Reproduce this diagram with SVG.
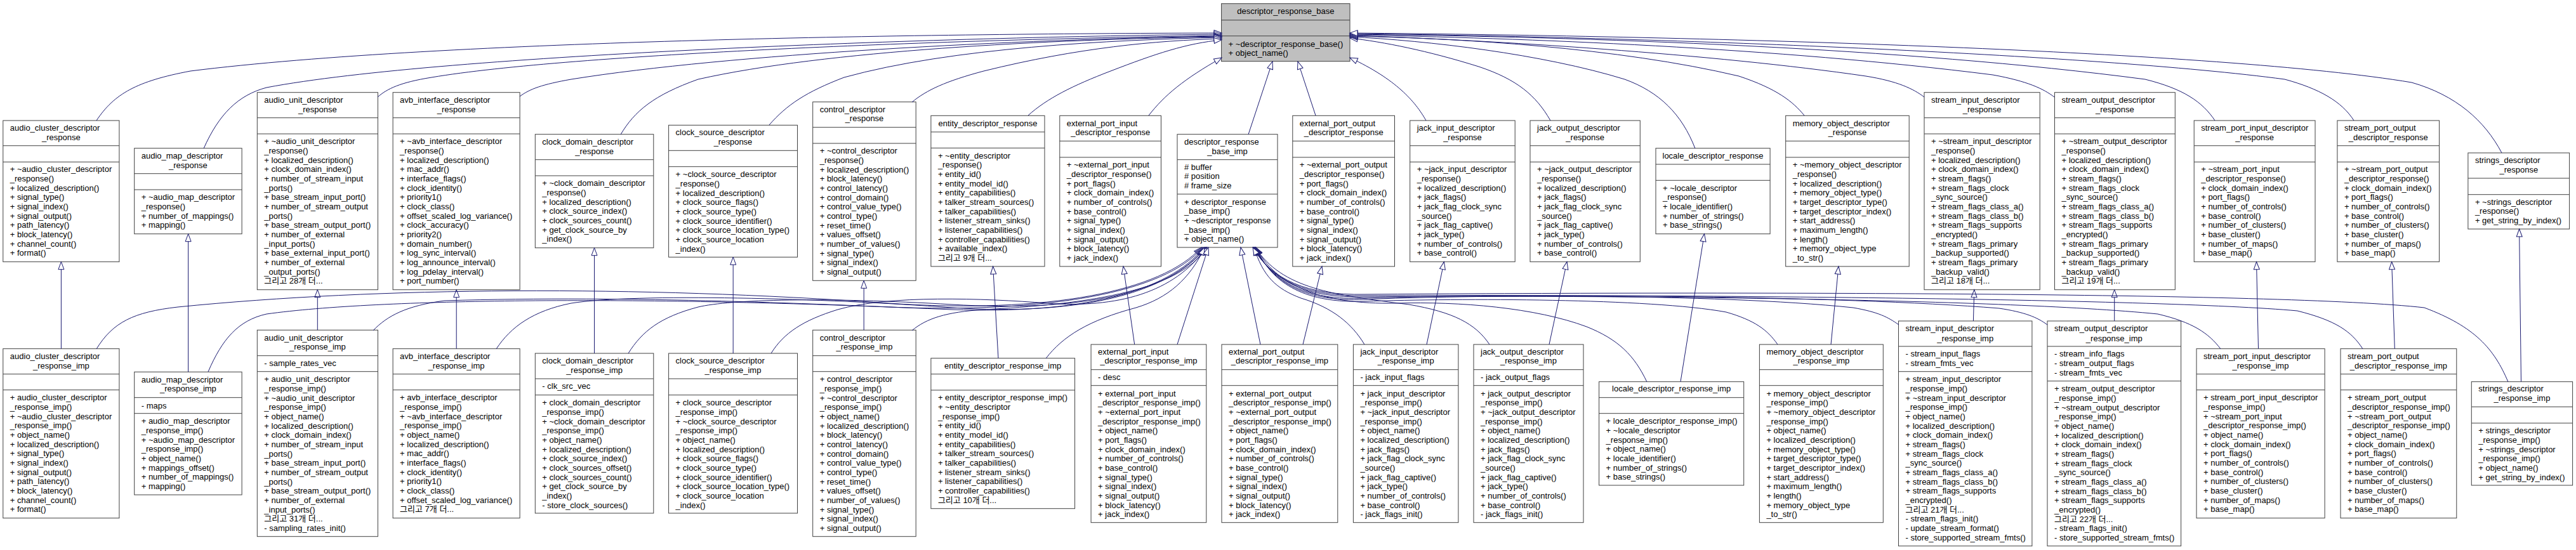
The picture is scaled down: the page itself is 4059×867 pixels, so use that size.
<svg xmlns="http://www.w3.org/2000/svg" width="4059" height="867" viewBox="0 0 4059 867">
<defs>
<marker id="tri" markerUnits="userSpaceOnUse" markerWidth="15" markerHeight="12" viewBox="0 0 15 12" refX="13" refY="5.5" orient="auto"><path d="M1,1 L13,5.5 L1,10 Z" fill="#fff" stroke="#191970" stroke-width="1"/></marker>
</defs>
<style>
.n rect{fill:#fff;stroke:#404040;stroke-width:1}
.n line{stroke:#404040;stroke-width:1}
#n_base rect{fill:#bfbfbf}
text{font-family:"Liberation Sans","Noto Sans CJK KR",sans-serif;font-size:13px;fill:#000}
.c{text-anchor:middle}
#edges path{fill:none;stroke:#191970;stroke-width:1;marker-end:url(#tri)}
</style>
<rect width="4059" height="867" fill="#fff"/>

<g id="n_base" class="n"><rect x="1924.6" y="5.7" width="202.4" height="91"/><line x1="1924.6" y1="31.7" x2="2127" y2="31.7"/><line x1="1924.6" y1="56.7" x2="2127" y2="56.7"/><text class="c" x="2025.8" y="21.8">descriptor_response_base</text><text x="1935.6" y="73.5"><tspan x="1935.6">+ ~descriptor_response_base()</tspan><tspan x="1935.6" dy="14.67">+ object_name()</tspan></text></g>

<g id="n_audio_cluster" class="n"><rect x="4.8" y="190" width="183.1" height="222.7"/><line x1="4.8" y1="229.7" x2="187.9" y2="229.7"/><line x1="4.8" y1="255.3" x2="187.9" y2="255.3"/><text x="15.8" y="206.2">audio_cluster_descriptor</text><text class="c" x="96.4" y="221.2">_response</text><text x="15.8" y="271.2"><tspan x="15.8">+ ~audio_cluster_descriptor</tspan><tspan x="15.8" dy="14.67">_response()</tspan><tspan x="15.8" dy="14.67">+ localized_description()</tspan><tspan x="15.8" dy="14.67">+ signal_type()</tspan><tspan x="15.8" dy="14.67">+ signal_index()</tspan><tspan x="15.8" dy="14.67">+ signal_output()</tspan><tspan x="15.8" dy="14.67">+ path_latency()</tspan><tspan x="15.8" dy="14.67">+ block_latency()</tspan><tspan x="15.8" dy="14.67">+ channel_count()</tspan><tspan x="15.8" dy="14.67">+ format()</tspan></text></g>

<g id="n_audio_map" class="n"><rect x="211.7" y="233.7" width="169.4" height="135"/><line x1="211.7" y1="273.7" x2="381.1" y2="273.7"/><line x1="211.7" y1="299" x2="381.1" y2="299"/><text x="222.7" y="250.2">audio_map_descriptor</text><text class="c" x="296.4" y="265.2">_response</text><text x="222.7" y="315.2"><tspan x="222.7">+ ~audio_map_descriptor</tspan><tspan x="222.7" dy="14.67">_response()</tspan><tspan x="222.7" dy="14.67">+ number_of_mappings()</tspan><tspan x="222.7" dy="14.67">+ mapping()</tspan></text></g>

<g id="n_audio_unit" class="n"><rect x="405.3" y="145.7" width="190.1" height="311"/><line x1="405.3" y1="185.7" x2="595.4" y2="185.7"/><line x1="405.3" y1="211" x2="595.4" y2="211"/><text x="416.3" y="162.2">audio_unit_descriptor</text><text class="c" x="500.4" y="177.2">_response</text><text x="416.3" y="227.2"><tspan x="416.3">+ ~audio_unit_descriptor</tspan><tspan x="416.3" dy="14.67">_response()</tspan><tspan x="416.3" dy="14.67">+ localized_description()</tspan><tspan x="416.3" dy="14.67">+ clock_domain_index()</tspan><tspan x="416.3" dy="14.67">+ number_of_stream_input</tspan><tspan x="416.3" dy="14.67">_ports()</tspan><tspan x="416.3" dy="14.67">+ base_stream_input_port()</tspan><tspan x="416.3" dy="14.67">+ number_of_stream_output</tspan><tspan x="416.3" dy="14.67">_ports()</tspan><tspan x="416.3" dy="14.67">+ base_stream_output_port()</tspan><tspan x="416.3" dy="14.67">+ number_of_external</tspan><tspan x="416.3" dy="14.67">_input_ports()</tspan><tspan x="416.3" dy="14.67">+ base_external_input_port()</tspan><tspan x="416.3" dy="14.67">+ number_of_external</tspan><tspan x="416.3" dy="14.67">_output_ports()</tspan><tspan x="416.3" dy="14.67">그리고 28개 더...</tspan></text></g>

<g id="n_avb_interface" class="n"><rect x="619.1" y="145.7" width="200" height="311"/><line x1="619.1" y1="185.7" x2="819.1" y2="185.7"/><line x1="619.1" y1="211" x2="819.1" y2="211"/><text x="630.1" y="162.2">avb_interface_descriptor</text><text class="c" x="719.1" y="177.2">_response</text><text x="630.1" y="227.2"><tspan x="630.1">+ ~avb_interface_descriptor</tspan><tspan x="630.1" dy="14.67">_response()</tspan><tspan x="630.1" dy="14.67">+ localized_description()</tspan><tspan x="630.1" dy="14.67">+ mac_addr()</tspan><tspan x="630.1" dy="14.67">+ interface_flags()</tspan><tspan x="630.1" dy="14.67">+ clock_identity()</tspan><tspan x="630.1" dy="14.67">+ priority1()</tspan><tspan x="630.1" dy="14.67">+ clock_class()</tspan><tspan x="630.1" dy="14.67">+ offset_scaled_log_variance()</tspan><tspan x="630.1" dy="14.67">+ clock_accuracy()</tspan><tspan x="630.1" dy="14.67">+ priority2()</tspan><tspan x="630.1" dy="14.67">+ domain_number()</tspan><tspan x="630.1" dy="14.67">+ log_sync_interval()</tspan><tspan x="630.1" dy="14.67">+ log_announce_interval()</tspan><tspan x="630.1" dy="14.67">+ log_pdelay_interval()</tspan><tspan x="630.1" dy="14.67">+ port_number()</tspan></text></g>

<g id="n_clock_domain" class="n"><rect x="843.3" y="211.7" width="186.5" height="179"/><line x1="843.3" y1="251.7" x2="1029.8" y2="251.7"/><line x1="843.3" y1="277" x2="1029.8" y2="277"/><text x="854.3" y="227.8">clock_domain_descriptor</text><text class="c" x="936.6" y="243.2">_response</text><text x="854.3" y="293.2"><tspan x="854.3">+ ~clock_domain_descriptor</tspan><tspan x="854.3" dy="14.67">_response()</tspan><tspan x="854.3" dy="14.67">+ localized_description()</tspan><tspan x="854.3" dy="14.67">+ clock_source_index()</tspan><tspan x="854.3" dy="14.67">+ clock_sources_count()</tspan><tspan x="854.3" dy="14.67">+ get_clock_source_by</tspan><tspan x="854.3" dy="14.67">_index()</tspan></text></g>

<g id="n_clock_source" class="n"><rect x="1053.6" y="197.3" width="202.9" height="208"/><line x1="1053.6" y1="237.3" x2="1256.5" y2="237.3"/><line x1="1053.6" y1="262.7" x2="1256.5" y2="262.7"/><text x="1064.6" y="213.2">clock_source_descriptor</text><text class="c" x="1155" y="227.8">_response</text><text x="1064.6" y="279.2"><tspan x="1064.6">+ ~clock_source_descriptor</tspan><tspan x="1064.6" dy="14.67">_response()</tspan><tspan x="1064.6" dy="14.67">+ localized_description()</tspan><tspan x="1064.6" dy="14.67">+ clock_source_flags()</tspan><tspan x="1064.6" dy="14.67">+ clock_source_type()</tspan><tspan x="1064.6" dy="14.67">+ clock_source_identifier()</tspan><tspan x="1064.6" dy="14.67">+ clock_source_location_type()</tspan><tspan x="1064.6" dy="14.67">+ clock_source_location</tspan><tspan x="1064.6" dy="14.67">_index()</tspan></text></g>

<g id="n_control" class="n"><rect x="1280.7" y="160.7" width="162.5" height="281.6"/><line x1="1280.7" y1="200.7" x2="1443.2" y2="200.7"/><line x1="1280.7" y1="226" x2="1443.2" y2="226"/><text x="1291.7" y="177.2">control_descriptor</text><text class="c" x="1362" y="191.2">_response</text><text x="1291.7" y="242.2"><tspan x="1291.7">+ ~control_descriptor</tspan><tspan x="1291.7" dy="14.67">_response()</tspan><tspan x="1291.7" dy="14.67">+ localized_description()</tspan><tspan x="1291.7" dy="14.67">+ block_latency()</tspan><tspan x="1291.7" dy="14.67">+ control_latency()</tspan><tspan x="1291.7" dy="14.67">+ control_domain()</tspan><tspan x="1291.7" dy="14.67">+ control_value_type()</tspan><tspan x="1291.7" dy="14.67">+ control_type()</tspan><tspan x="1291.7" dy="14.67">+ reset_time()</tspan><tspan x="1291.7" dy="14.67">+ values_offset()</tspan><tspan x="1291.7" dy="14.67">+ number_of_values()</tspan><tspan x="1291.7" dy="14.67">+ signal_type()</tspan><tspan x="1291.7" dy="14.67">+ signal_index()</tspan><tspan x="1291.7" dy="14.67">+ signal_output()</tspan></text></g>

<g id="n_entity" class="n"><rect x="1466.9" y="182.3" width="179.1" height="237.7"/><line x1="1466.9" y1="208" x2="1646" y2="208"/><line x1="1466.9" y1="233.3" x2="1646" y2="233.3"/><text class="c" x="1556.5" y="198.8">entity_descriptor_response</text><text x="1477.9" y="249.5"><tspan x="1477.9">+ ~entity_descriptor</tspan><tspan x="1477.9" dy="14.67">_response()</tspan><tspan x="1477.9" dy="14.67">+ entity_id()</tspan><tspan x="1477.9" dy="14.67">+ entity_model_id()</tspan><tspan x="1477.9" dy="14.67">+ entity_capabilities()</tspan><tspan x="1477.9" dy="14.67">+ talker_stream_sources()</tspan><tspan x="1477.9" dy="14.67">+ talker_capabilities()</tspan><tspan x="1477.9" dy="14.67">+ listener_stream_sinks()</tspan><tspan x="1477.9" dy="14.67">+ listener_capabilities()</tspan><tspan x="1477.9" dy="14.67">+ controller_capabilities()</tspan><tspan x="1477.9" dy="14.67">+ available_index()</tspan><tspan x="1477.9" dy="14.67">그리고 9개 더...</tspan></text></g>

<g id="n_ext_port_input" class="n"><rect x="1669.8" y="182.3" width="159.7" height="237.7"/><line x1="1669.8" y1="222.3" x2="1829.5" y2="222.3"/><line x1="1669.8" y1="248" x2="1829.5" y2="248"/><text x="1680.8" y="198.8">external_port_input</text><text class="c" x="1749.7" y="213.2">_descriptor_response</text><text x="1680.8" y="264.2"><tspan x="1680.8">+ ~external_port_input</tspan><tspan x="1680.8" dy="14.67">_descriptor_response()</tspan><tspan x="1680.8" dy="14.67">+ port_flags()</tspan><tspan x="1680.8" dy="14.67">+ clock_domain_index()</tspan><tspan x="1680.8" dy="14.67">+ number_of_controls()</tspan><tspan x="1680.8" dy="14.67">+ base_control()</tspan><tspan x="1680.8" dy="14.67">+ signal_type()</tspan><tspan x="1680.8" dy="14.67">+ signal_index()</tspan><tspan x="1680.8" dy="14.67">+ signal_output()</tspan><tspan x="1680.8" dy="14.67">+ block_latency()</tspan><tspan x="1680.8" dy="14.67">+ jack_index()</tspan></text></g>

<g id="n_base_imp" class="n"><rect x="1855" y="211.7" width="158" height="178.3"/><line x1="1855" y1="251.7" x2="2013" y2="251.7"/><line x1="1855" y1="306" x2="2013" y2="306"/><text x="1866" y="227.8">descriptor_response</text><text class="c" x="1934" y="243.2">_base_imp</text><text x="1866" y="267.8"><tspan x="1866"># buffer</tspan><tspan x="1866" dy="14.67"># position</tspan><tspan x="1866" dy="14.67"># frame_size</tspan></text><text x="1866" y="322.8"><tspan x="1866">+ descriptor_response</tspan><tspan x="1866" dy="14.67">_base_imp()</tspan><tspan x="1866" dy="14.67">+ ~descriptor_response</tspan><tspan x="1866" dy="14.67">_base_imp()</tspan><tspan x="1866" dy="14.67">+ object_name()</tspan></text></g>

<g id="n_ext_port_output" class="n"><rect x="2036.8" y="182.3" width="160.7" height="237.7"/><line x1="2036.8" y1="222.3" x2="2197.5" y2="222.3"/><line x1="2036.8" y1="248" x2="2197.5" y2="248"/><text x="2047.8" y="198.8">external_port_output</text><text class="c" x="2117.2" y="213.2">_descriptor_response</text><text x="2047.8" y="264.2"><tspan x="2047.8">+ ~external_port_output</tspan><tspan x="2047.8" dy="14.67">_descriptor_response()</tspan><tspan x="2047.8" dy="14.67">+ port_flags()</tspan><tspan x="2047.8" dy="14.67">+ clock_domain_index()</tspan><tspan x="2047.8" dy="14.67">+ number_of_controls()</tspan><tspan x="2047.8" dy="14.67">+ base_control()</tspan><tspan x="2047.8" dy="14.67">+ signal_type()</tspan><tspan x="2047.8" dy="14.67">+ signal_index()</tspan><tspan x="2047.8" dy="14.67">+ signal_output()</tspan><tspan x="2047.8" dy="14.67">+ block_latency()</tspan><tspan x="2047.8" dy="14.67">+ jack_index()</tspan></text></g>

<g id="n_jack_input" class="n"><rect x="2221.7" y="190" width="165.5" height="222.7"/><line x1="2221.7" y1="229.7" x2="2387.2" y2="229.7"/><line x1="2221.7" y1="255.3" x2="2387.2" y2="255.3"/><text x="2232.7" y="206.2">jack_input_descriptor</text><text class="c" x="2304.5" y="221.2">_response</text><text x="2232.7" y="271.2"><tspan x="2232.7">+ ~jack_input_descriptor</tspan><tspan x="2232.7" dy="14.67">_response()</tspan><tspan x="2232.7" dy="14.67">+ localized_description()</tspan><tspan x="2232.7" dy="14.67">+ jack_flags()</tspan><tspan x="2232.7" dy="14.67">+ jack_flag_clock_sync</tspan><tspan x="2232.7" dy="14.67">_source()</tspan><tspan x="2232.7" dy="14.67">+ jack_flag_captive()</tspan><tspan x="2232.7" dy="14.67">+ jack_type()</tspan><tspan x="2232.7" dy="14.67">+ number_of_controls()</tspan><tspan x="2232.7" dy="14.67">+ base_control()</tspan></text></g>

<g id="n_jack_output" class="n"><rect x="2411" y="190" width="173.3" height="222.7"/><line x1="2411" y1="229.7" x2="2584.3" y2="229.7"/><line x1="2411" y1="255.3" x2="2584.3" y2="255.3"/><text x="2422" y="206.2">jack_output_descriptor</text><text class="c" x="2497.7" y="221.2">_response</text><text x="2422" y="271.2"><tspan x="2422">+ ~jack_output_descriptor</tspan><tspan x="2422" dy="14.67">_response()</tspan><tspan x="2422" dy="14.67">+ localized_description()</tspan><tspan x="2422" dy="14.67">+ jack_flags()</tspan><tspan x="2422" dy="14.67">+ jack_flag_clock_sync</tspan><tspan x="2422" dy="14.67">_source()</tspan><tspan x="2422" dy="14.67">+ jack_flag_captive()</tspan><tspan x="2422" dy="14.67">+ jack_type()</tspan><tspan x="2422" dy="14.67">+ number_of_controls()</tspan><tspan x="2422" dy="14.67">+ base_control()</tspan></text></g>

<g id="n_locale" class="n"><rect x="2609" y="233.7" width="180.1" height="135"/><line x1="2609" y1="259" x2="2789.1" y2="259"/><line x1="2609" y1="284.3" x2="2789.1" y2="284.3"/><text class="c" x="2699" y="250.2">locale_descriptor_response</text><text x="2620" y="300.8"><tspan x="2620">+ ~locale_descriptor</tspan><tspan x="2620" dy="14.67">_response()</tspan><tspan x="2620" dy="14.67">+ locale_identifier()</tspan><tspan x="2620" dy="14.67">+ number_of_strings()</tspan><tspan x="2620" dy="14.67">+ base_strings()</tspan></text></g>

<g id="n_memory_object" class="n"><rect x="2813.7" y="182.3" width="194.5" height="237.7"/><line x1="2813.7" y1="222.3" x2="3008.2" y2="222.3"/><line x1="2813.7" y1="248" x2="3008.2" y2="248"/><text x="2824.7" y="198.8">memory_object_descriptor</text><text class="c" x="2911" y="213.2">_response</text><text x="2824.7" y="264.2"><tspan x="2824.7">+ ~memory_object_descriptor</tspan><tspan x="2824.7" dy="14.67">_response()</tspan><tspan x="2824.7" dy="14.67">+ localized_description()</tspan><tspan x="2824.7" dy="14.67">+ memory_object_type()</tspan><tspan x="2824.7" dy="14.67">+ target_descriptor_type()</tspan><tspan x="2824.7" dy="14.67">+ target_descriptor_index()</tspan><tspan x="2824.7" dy="14.67">+ start_address()</tspan><tspan x="2824.7" dy="14.67">+ maximum_length()</tspan><tspan x="2824.7" dy="14.67">+ length()</tspan><tspan x="2824.7" dy="14.67">+ memory_object_type</tspan><tspan x="2824.7" dy="14.67">_to_str()</tspan></text></g>

<g id="n_stream_input" class="n"><rect x="3032" y="145.7" width="182.2" height="311"/><line x1="3032" y1="185.7" x2="3214.2" y2="185.7"/><line x1="3032" y1="211" x2="3214.2" y2="211"/><text x="3043" y="162.2">stream_input_descriptor</text><text class="c" x="3123.1" y="177.2">_response</text><text x="3043" y="227.2"><tspan x="3043">+ ~stream_input_descriptor</tspan><tspan x="3043" dy="14.67">_response()</tspan><tspan x="3043" dy="14.67">+ localized_description()</tspan><tspan x="3043" dy="14.67">+ clock_domain_index()</tspan><tspan x="3043" dy="14.67">+ stream_flags()</tspan><tspan x="3043" dy="14.67">+ stream_flags_clock</tspan><tspan x="3043" dy="14.67">_sync_source()</tspan><tspan x="3043" dy="14.67">+ stream_flags_class_a()</tspan><tspan x="3043" dy="14.67">+ stream_flags_class_b()</tspan><tspan x="3043" dy="14.67">+ stream_flags_supports</tspan><tspan x="3043" dy="14.67">_encrypted()</tspan><tspan x="3043" dy="14.67">+ stream_flags_primary</tspan><tspan x="3043" dy="14.67">_backup_supported()</tspan><tspan x="3043" dy="14.67">+ stream_flags_primary</tspan><tspan x="3043" dy="14.67">_backup_valid()</tspan><tspan x="3043" dy="14.67">그리고 18개 더...</tspan></text></g>

<g id="n_stream_output" class="n"><rect x="3237.5" y="145.7" width="189.8" height="311"/><line x1="3237.5" y1="185.7" x2="3427.3" y2="185.7"/><line x1="3237.5" y1="211" x2="3427.3" y2="211"/><text x="3248.5" y="162.2">stream_output_descriptor</text><text class="c" x="3332.4" y="177.2">_response</text><text x="3248.5" y="227.2"><tspan x="3248.5">+ ~stream_output_descriptor</tspan><tspan x="3248.5" dy="14.67">_response()</tspan><tspan x="3248.5" dy="14.67">+ localized_description()</tspan><tspan x="3248.5" dy="14.67">+ clock_domain_index()</tspan><tspan x="3248.5" dy="14.67">+ stream_flags()</tspan><tspan x="3248.5" dy="14.67">+ stream_flags_clock</tspan><tspan x="3248.5" dy="14.67">_sync_source()</tspan><tspan x="3248.5" dy="14.67">+ stream_flags_class_a()</tspan><tspan x="3248.5" dy="14.67">+ stream_flags_class_b()</tspan><tspan x="3248.5" dy="14.67">+ stream_flags_supports</tspan><tspan x="3248.5" dy="14.67">_encrypted()</tspan><tspan x="3248.5" dy="14.67">+ stream_flags_primary</tspan><tspan x="3248.5" dy="14.67">_backup_supported()</tspan><tspan x="3248.5" dy="14.67">+ stream_flags_primary</tspan><tspan x="3248.5" dy="14.67">_backup_valid()</tspan><tspan x="3248.5" dy="14.67">그리고 19개 더...</tspan></text></g>

<g id="n_stream_port_input" class="n"><rect x="3457.2" y="190" width="190.8" height="222.7"/><line x1="3457.2" y1="229.7" x2="3648" y2="229.7"/><line x1="3457.2" y1="255.3" x2="3648" y2="255.3"/><text x="3468.2" y="206.2">stream_port_input_descriptor</text><text class="c" x="3552.6" y="221.2">_response</text><text x="3468.2" y="271.2"><tspan x="3468.2">+ ~stream_port_input</tspan><tspan x="3468.2" dy="14.67">_descriptor_response()</tspan><tspan x="3468.2" dy="14.67">+ clock_domain_index()</tspan><tspan x="3468.2" dy="14.67">+ port_flags()</tspan><tspan x="3468.2" dy="14.67">+ number_of_controls()</tspan><tspan x="3468.2" dy="14.67">+ base_control()</tspan><tspan x="3468.2" dy="14.67">+ number_of_clusters()</tspan><tspan x="3468.2" dy="14.67">+ base_cluster()</tspan><tspan x="3468.2" dy="14.67">+ number_of_maps()</tspan><tspan x="3468.2" dy="14.67">+ base_map()</tspan></text></g>

<g id="n_stream_port_output" class="n"><rect x="3682.9" y="190" width="160.6" height="222.7"/><line x1="3682.9" y1="229.7" x2="3843.5" y2="229.7"/><line x1="3682.9" y1="255.3" x2="3843.5" y2="255.3"/><text x="3693.9" y="206.2">stream_port_output</text><text class="c" x="3763.2" y="221.2">_descriptor_response</text><text x="3693.9" y="271.2"><tspan x="3693.9">+ ~stream_port_output</tspan><tspan x="3693.9" dy="14.67">_descriptor_response()</tspan><tspan x="3693.9" dy="14.67">+ clock_domain_index()</tspan><tspan x="3693.9" dy="14.67">+ port_flags()</tspan><tspan x="3693.9" dy="14.67">+ number_of_controls()</tspan><tspan x="3693.9" dy="14.67">+ base_control()</tspan><tspan x="3693.9" dy="14.67">+ number_of_clusters()</tspan><tspan x="3693.9" dy="14.67">+ base_cluster()</tspan><tspan x="3693.9" dy="14.67">+ number_of_maps()</tspan><tspan x="3693.9" dy="14.67">+ base_map()</tspan></text></g>

<g id="n_strings" class="n"><rect x="3888.9" y="241" width="159.7" height="120"/><line x1="3888.9" y1="281" x2="4048.6" y2="281"/><line x1="3888.9" y1="306.7" x2="4048.6" y2="306.7"/><text x="3899.9" y="257.2">strings_descriptor</text><text class="c" x="3968.8" y="272.2">_response</text><text x="3899.9" y="322.8"><tspan x="3899.9">+ ~strings_descriptor</tspan><tspan x="3899.9" dy="14.67">_response()</tspan><tspan x="3899.9" dy="14.67">+ get_string_by_index()</tspan></text></g>

<g id="m_audio_cluster" class="n"><rect x="4.8" y="549.7" width="183.1" height="267"/><line x1="4.8" y1="589.7" x2="187.9" y2="589.7"/><line x1="4.8" y1="614.7" x2="187.9" y2="614.7"/><text x="15.8" y="566.2">audio_cluster_descriptor</text><text class="c" x="96.4" y="581.2">_response_imp</text><text x="15.8" y="631.2"><tspan x="15.8">+ audio_cluster_descriptor</tspan><tspan x="15.8" dy="14.67">_response_imp()</tspan><tspan x="15.8" dy="14.67">+ ~audio_cluster_descriptor</tspan><tspan x="15.8" dy="14.67">_response_imp()</tspan><tspan x="15.8" dy="14.67">+ object_name()</tspan><tspan x="15.8" dy="14.67">+ localized_description()</tspan><tspan x="15.8" dy="14.67">+ signal_type()</tspan><tspan x="15.8" dy="14.67">+ signal_index()</tspan><tspan x="15.8" dy="14.67">+ signal_output()</tspan><tspan x="15.8" dy="14.67">+ path_latency()</tspan><tspan x="15.8" dy="14.67">+ block_latency()</tspan><tspan x="15.8" dy="14.67">+ channel_count()</tspan><tspan x="15.8" dy="14.67">+ format()</tspan></text></g>

<g id="m_audio_map" class="n"><rect x="211.7" y="586.3" width="169.4" height="193.7"/><line x1="211.7" y1="626.7" x2="381.1" y2="626.7"/><line x1="211.7" y1="651.7" x2="381.1" y2="651.7"/><text x="222.7" y="603.2">audio_map_descriptor</text><text class="c" x="296.4" y="617.2">_response_imp</text><text x="222.7" y="643.5">- maps</text><text x="222.7" y="668.2"><tspan x="222.7">+ audio_map_descriptor</tspan><tspan x="222.7" dy="14.67">_response_imp()</tspan><tspan x="222.7" dy="14.67">+ ~audio_map_descriptor</tspan><tspan x="222.7" dy="14.67">_response_imp()</tspan><tspan x="222.7" dy="14.67">+ object_name()</tspan><tspan x="222.7" dy="14.67">+ mappings_offset()</tspan><tspan x="222.7" dy="14.67">+ number_of_mappings()</tspan><tspan x="222.7" dy="14.67">+ mapping()</tspan></text></g>

<g id="m_audio_unit" class="n"><rect x="405.3" y="520.3" width="190.1" height="325.4"/><line x1="405.3" y1="560.7" x2="595.4" y2="560.7"/><line x1="405.3" y1="585.7" x2="595.4" y2="585.7"/><text x="416.3" y="537.2">audio_unit_descriptor</text><text class="c" x="500.4" y="551.2">_response_imp</text><text x="416.3" y="577.2">- sample_rates_vec</text><text x="416.3" y="602.2"><tspan x="416.3">+ audio_unit_descriptor</tspan><tspan x="416.3" dy="14.67">_response_imp()</tspan><tspan x="416.3" dy="14.67">+ ~audio_unit_descriptor</tspan><tspan x="416.3" dy="14.67">_response_imp()</tspan><tspan x="416.3" dy="14.67">+ object_name()</tspan><tspan x="416.3" dy="14.67">+ localized_description()</tspan><tspan x="416.3" dy="14.67">+ clock_domain_index()</tspan><tspan x="416.3" dy="14.67">+ number_of_stream_input</tspan><tspan x="416.3" dy="14.67">_ports()</tspan><tspan x="416.3" dy="14.67">+ base_stream_input_port()</tspan><tspan x="416.3" dy="14.67">+ number_of_stream_output</tspan><tspan x="416.3" dy="14.67">_ports()</tspan><tspan x="416.3" dy="14.67">+ base_stream_output_port()</tspan><tspan x="416.3" dy="14.67">+ number_of_external</tspan><tspan x="416.3" dy="14.67">_input_ports()</tspan><tspan x="416.3" dy="14.67">그리고 31개 더...</tspan><tspan x="416.3" dy="14.67">- sampling_rates_init()</tspan></text></g>

<g id="m_avb_interface" class="n"><rect x="619.1" y="549.7" width="200" height="267"/><line x1="619.1" y1="589.7" x2="819.1" y2="589.7"/><line x1="619.1" y1="614.7" x2="819.1" y2="614.7"/><text x="630.1" y="566.2">avb_interface_descriptor</text><text class="c" x="719.1" y="581.2">_response_imp</text><text x="630.1" y="631.2"><tspan x="630.1">+ avb_interface_descriptor</tspan><tspan x="630.1" dy="14.67">_response_imp()</tspan><tspan x="630.1" dy="14.67">+ ~avb_interface_descriptor</tspan><tspan x="630.1" dy="14.67">_response_imp()</tspan><tspan x="630.1" dy="14.67">+ object_name()</tspan><tspan x="630.1" dy="14.67">+ localized_description()</tspan><tspan x="630.1" dy="14.67">+ mac_addr()</tspan><tspan x="630.1" dy="14.67">+ interface_flags()</tspan><tspan x="630.1" dy="14.67">+ clock_identity()</tspan><tspan x="630.1" dy="14.67">+ priority1()</tspan><tspan x="630.1" dy="14.67">+ clock_class()</tspan><tspan x="630.1" dy="14.67">+ offset_scaled_log_variance()</tspan><tspan x="630.1" dy="14.67">그리고 7개 더...</tspan></text></g>

<g id="m_clock_domain" class="n"><rect x="843.3" y="557" width="186.5" height="252"/><line x1="843.3" y1="597" x2="1029.8" y2="597"/><line x1="843.3" y1="622.7" x2="1029.8" y2="622.7"/><text x="854.3" y="572.8">clock_domain_descriptor</text><text class="c" x="936.6" y="588.2">_response_imp</text><text x="854.3" y="613.2">- clk_src_vec</text><text x="854.3" y="639.2"><tspan x="854.3">+ clock_domain_descriptor</tspan><tspan x="854.3" dy="14.67">_response_imp()</tspan><tspan x="854.3" dy="14.67">+ ~clock_domain_descriptor</tspan><tspan x="854.3" dy="14.67">_response_imp()</tspan><tspan x="854.3" dy="14.67">+ object_name()</tspan><tspan x="854.3" dy="14.67">+ localized_description()</tspan><tspan x="854.3" dy="14.67">+ clock_source_index()</tspan><tspan x="854.3" dy="14.67">+ clock_sources_offset()</tspan><tspan x="854.3" dy="14.67">+ clock_sources_count()</tspan><tspan x="854.3" dy="14.67">+ get_clock_source_by</tspan><tspan x="854.3" dy="14.67">_index()</tspan><tspan x="854.3" dy="14.67">- store_clock_sources()</tspan></text></g>

<g id="m_clock_source" class="n"><rect x="1053.6" y="557" width="202.9" height="252"/><line x1="1053.6" y1="597" x2="1256.5" y2="597"/><line x1="1053.6" y1="622.7" x2="1256.5" y2="622.7"/><text x="1064.6" y="572.8">clock_source_descriptor</text><text class="c" x="1155" y="588.2">_response_imp</text><text x="1064.6" y="639.2"><tspan x="1064.6">+ clock_source_descriptor</tspan><tspan x="1064.6" dy="14.67">_response_imp()</tspan><tspan x="1064.6" dy="14.67">+ ~clock_source_descriptor</tspan><tspan x="1064.6" dy="14.67">_response_imp()</tspan><tspan x="1064.6" dy="14.67">+ object_name()</tspan><tspan x="1064.6" dy="14.67">+ localized_description()</tspan><tspan x="1064.6" dy="14.67">+ clock_source_flags()</tspan><tspan x="1064.6" dy="14.67">+ clock_source_type()</tspan><tspan x="1064.6" dy="14.67">+ clock_source_identifier()</tspan><tspan x="1064.6" dy="14.67">+ clock_source_location_type()</tspan><tspan x="1064.6" dy="14.67">+ clock_source_location</tspan><tspan x="1064.6" dy="14.67">_index()</tspan></text></g>

<g id="m_control" class="n"><rect x="1280.7" y="520.3" width="162.5" height="325.4"/><line x1="1280.7" y1="560.7" x2="1443.2" y2="560.7"/><line x1="1280.7" y1="585.7" x2="1443.2" y2="585.7"/><text x="1291.7" y="537.2">control_descriptor</text><text class="c" x="1362" y="551.2">_response_imp</text><text x="1291.7" y="602.2"><tspan x="1291.7">+ control_descriptor</tspan><tspan x="1291.7" dy="14.67">_response_imp()</tspan><tspan x="1291.7" dy="14.67">+ ~control_descriptor</tspan><tspan x="1291.7" dy="14.67">_response_imp()</tspan><tspan x="1291.7" dy="14.67">+ object_name()</tspan><tspan x="1291.7" dy="14.67">+ localized_description()</tspan><tspan x="1291.7" dy="14.67">+ block_latency()</tspan><tspan x="1291.7" dy="14.67">+ control_latency()</tspan><tspan x="1291.7" dy="14.67">+ control_domain()</tspan><tspan x="1291.7" dy="14.67">+ control_value_type()</tspan><tspan x="1291.7" dy="14.67">+ control_type()</tspan><tspan x="1291.7" dy="14.67">+ reset_time()</tspan><tspan x="1291.7" dy="14.67">+ values_offset()</tspan><tspan x="1291.7" dy="14.67">+ number_of_values()</tspan><tspan x="1291.7" dy="14.67">+ signal_type()</tspan><tspan x="1291.7" dy="14.67">+ signal_index()</tspan><tspan x="1291.7" dy="14.67">+ signal_output()</tspan></text></g>

<g id="m_entity" class="n"><rect x="1466.9" y="564.7" width="226.7" height="237"/><line x1="1466.9" y1="589.7" x2="1693.6" y2="589.7"/><line x1="1466.9" y1="615" x2="1693.6" y2="615"/><text class="c" x="1580.2" y="581.2">entity_descriptor_response_imp</text><text x="1477.9" y="631.2"><tspan x="1477.9">+ entity_descriptor_response_imp()</tspan><tspan x="1477.9" dy="14.67">+ ~entity_descriptor</tspan><tspan x="1477.9" dy="14.67">_response_imp()</tspan><tspan x="1477.9" dy="14.67">+ entity_id()</tspan><tspan x="1477.9" dy="14.67">+ entity_model_id()</tspan><tspan x="1477.9" dy="14.67">+ entity_capabilities()</tspan><tspan x="1477.9" dy="14.67">+ talker_stream_sources()</tspan><tspan x="1477.9" dy="14.67">+ talker_capabilities()</tspan><tspan x="1477.9" dy="14.67">+ listener_stream_sinks()</tspan><tspan x="1477.9" dy="14.67">+ listener_capabilities()</tspan><tspan x="1477.9" dy="14.67">+ controller_capabilities()</tspan><tspan x="1477.9" dy="14.67">그리고 10개 더...</tspan></text></g>

<g id="m_ext_port_input" class="n"><rect x="1719.1" y="543" width="181.7" height="280.7"/><line x1="1719.1" y1="582.7" x2="1900.8" y2="582.7"/><line x1="1719.1" y1="607.7" x2="1900.8" y2="607.7"/><text x="1730.1" y="559.2">external_port_input</text><text class="c" x="1810" y="573.2">_descriptor_response_imp</text><text x="1730.1" y="599.2">- desc</text><text x="1730.1" y="624.5"><tspan x="1730.1">+ external_port_input</tspan><tspan x="1730.1" dy="14.67">_descriptor_response_imp()</tspan><tspan x="1730.1" dy="14.67">+ ~external_port_input</tspan><tspan x="1730.1" dy="14.67">_descriptor_response_imp()</tspan><tspan x="1730.1" dy="14.67">+ object_name()</tspan><tspan x="1730.1" dy="14.67">+ port_flags()</tspan><tspan x="1730.1" dy="14.67">+ clock_domain_index()</tspan><tspan x="1730.1" dy="14.67">+ number_of_controls()</tspan><tspan x="1730.1" dy="14.67">+ base_control()</tspan><tspan x="1730.1" dy="14.67">+ signal_type()</tspan><tspan x="1730.1" dy="14.67">+ signal_index()</tspan><tspan x="1730.1" dy="14.67">+ signal_output()</tspan><tspan x="1730.1" dy="14.67">+ block_latency()</tspan><tspan x="1730.1" dy="14.67">+ jack_index()</tspan></text></g>

<g id="m_ext_port_output" class="n"><rect x="1925" y="543" width="182.8" height="280.7"/><line x1="1925" y1="582.7" x2="2107.8" y2="582.7"/><line x1="1925" y1="607.7" x2="2107.8" y2="607.7"/><text x="1936" y="559.2">external_port_output</text><text class="c" x="2016.4" y="573.2">_descriptor_response_imp</text><text x="1936" y="624.5"><tspan x="1936">+ external_port_output</tspan><tspan x="1936" dy="14.67">_descriptor_response_imp()</tspan><tspan x="1936" dy="14.67">+ ~external_port_output</tspan><tspan x="1936" dy="14.67">_descriptor_response_imp()</tspan><tspan x="1936" dy="14.67">+ object_name()</tspan><tspan x="1936" dy="14.67">+ port_flags()</tspan><tspan x="1936" dy="14.67">+ clock_domain_index()</tspan><tspan x="1936" dy="14.67">+ number_of_controls()</tspan><tspan x="1936" dy="14.67">+ base_control()</tspan><tspan x="1936" dy="14.67">+ signal_type()</tspan><tspan x="1936" dy="14.67">+ signal_index()</tspan><tspan x="1936" dy="14.67">+ signal_output()</tspan><tspan x="1936" dy="14.67">+ block_latency()</tspan><tspan x="1936" dy="14.67">+ jack_index()</tspan></text></g>

<g id="m_jack_input" class="n"><rect x="2132.4" y="543" width="165.5" height="280.7"/><line x1="2132.4" y1="582.7" x2="2297.9" y2="582.7"/><line x1="2132.4" y1="607.7" x2="2297.9" y2="607.7"/><text x="2143.4" y="559.2">jack_input_descriptor</text><text class="c" x="2215.2" y="573.2">_response_imp</text><text x="2143.4" y="599.2">- jack_input_flags</text><text x="2143.4" y="624.5"><tspan x="2143.4">+ jack_input_descriptor</tspan><tspan x="2143.4" dy="14.67">_response_imp()</tspan><tspan x="2143.4" dy="14.67">+ ~jack_input_descriptor</tspan><tspan x="2143.4" dy="14.67">_response_imp()</tspan><tspan x="2143.4" dy="14.67">+ object_name()</tspan><tspan x="2143.4" dy="14.67">+ localized_description()</tspan><tspan x="2143.4" dy="14.67">+ jack_flags()</tspan><tspan x="2143.4" dy="14.67">+ jack_flag_clock_sync</tspan><tspan x="2143.4" dy="14.67">_source()</tspan><tspan x="2143.4" dy="14.67">+ jack_flag_captive()</tspan><tspan x="2143.4" dy="14.67">+ jack_type()</tspan><tspan x="2143.4" dy="14.67">+ number_of_controls()</tspan><tspan x="2143.4" dy="14.67">+ base_control()</tspan><tspan x="2143.4" dy="14.67">- jack_flags_init()</tspan></text></g>

<g id="m_jack_output" class="n"><rect x="2322" y="543" width="173" height="280.7"/><line x1="2322" y1="582.7" x2="2495" y2="582.7"/><line x1="2322" y1="607.7" x2="2495" y2="607.7"/><text x="2333" y="559.2">jack_output_descriptor</text><text class="c" x="2408.5" y="573.2">_response_imp</text><text x="2333" y="599.2">- jack_output_flags</text><text x="2333" y="624.5"><tspan x="2333">+ jack_output_descriptor</tspan><tspan x="2333" dy="14.67">_response_imp()</tspan><tspan x="2333" dy="14.67">+ ~jack_output_descriptor</tspan><tspan x="2333" dy="14.67">_response_imp()</tspan><tspan x="2333" dy="14.67">+ object_name()</tspan><tspan x="2333" dy="14.67">+ localized_description()</tspan><tspan x="2333" dy="14.67">+ jack_flags()</tspan><tspan x="2333" dy="14.67">+ jack_flag_clock_sync</tspan><tspan x="2333" dy="14.67">_source()</tspan><tspan x="2333" dy="14.67">+ jack_flag_captive()</tspan><tspan x="2333" dy="14.67">+ jack_type()</tspan><tspan x="2333" dy="14.67">+ number_of_controls()</tspan><tspan x="2333" dy="14.67">+ base_control()</tspan><tspan x="2333" dy="14.67">- jack_flags_init()</tspan></text></g>

<g id="m_locale" class="n"><rect x="2519.6" y="601.7" width="228.1" height="163.3"/><line x1="2519.6" y1="626.7" x2="2747.7" y2="626.7"/><line x1="2519.6" y1="651.7" x2="2747.7" y2="651.7"/><text class="c" x="2633.7" y="617.2">locale_descriptor_response_imp</text><text x="2530.6" y="668.2"><tspan x="2530.6">+ locale_descriptor_response_imp()</tspan><tspan x="2530.6" dy="14.67">+ ~locale_descriptor</tspan><tspan x="2530.6" dy="14.67">_response_imp()</tspan><tspan x="2530.6" dy="14.67">+ object_name()</tspan><tspan x="2530.6" dy="14.67">+ locale_identifier()</tspan><tspan x="2530.6" dy="14.67">+ number_of_strings()</tspan><tspan x="2530.6" dy="14.67">+ base_strings()</tspan></text></g>

<g id="m_memory_object" class="n"><rect x="2772.4" y="543" width="194.9" height="280.7"/><line x1="2772.4" y1="582.7" x2="2967.3" y2="582.7"/><line x1="2772.4" y1="607.7" x2="2967.3" y2="607.7"/><text x="2783.4" y="559.2">memory_object_descriptor</text><text class="c" x="2869.9" y="573.2">_response_imp</text><text x="2783.4" y="624.5"><tspan x="2783.4">+ memory_object_descriptor</tspan><tspan x="2783.4" dy="14.67">_response_imp()</tspan><tspan x="2783.4" dy="14.67">+ ~memory_object_descriptor</tspan><tspan x="2783.4" dy="14.67">_response_imp()</tspan><tspan x="2783.4" dy="14.67">+ object_name()</tspan><tspan x="2783.4" dy="14.67">+ localized_description()</tspan><tspan x="2783.4" dy="14.67">+ memory_object_type()</tspan><tspan x="2783.4" dy="14.67">+ target_descriptor_type()</tspan><tspan x="2783.4" dy="14.67">+ target_descriptor_index()</tspan><tspan x="2783.4" dy="14.67">+ start_address()</tspan><tspan x="2783.4" dy="14.67">+ maximum_length()</tspan><tspan x="2783.4" dy="14.67">+ length()</tspan><tspan x="2783.4" dy="14.67">+ memory_object_type</tspan><tspan x="2783.4" dy="14.67">_to_str()</tspan></text></g>

<g id="m_stream_input" class="n"><rect x="2991.5" y="506" width="210.4" height="354.7"/><line x1="2991.5" y1="546" x2="3201.9" y2="546"/><line x1="2991.5" y1="585.7" x2="3201.9" y2="585.7"/><text x="3002.5" y="522.2">stream_input_descriptor</text><text class="c" x="3096.7" y="537.5">_response_imp</text><text x="3002.5" y="562.2"><tspan x="3002.5">- stream_input_flags</tspan><tspan x="3002.5" dy="14.67">- stream_fmts_vec</tspan></text><text x="3002.5" y="602.2"><tspan x="3002.5">+ stream_input_descriptor</tspan><tspan x="3002.5" dy="14.67">_response_imp()</tspan><tspan x="3002.5" dy="14.67">+ ~stream_input_descriptor</tspan><tspan x="3002.5" dy="14.67">_response_imp()</tspan><tspan x="3002.5" dy="14.67">+ object_name()</tspan><tspan x="3002.5" dy="14.67">+ localized_description()</tspan><tspan x="3002.5" dy="14.67">+ clock_domain_index()</tspan><tspan x="3002.5" dy="14.67">+ stream_flags()</tspan><tspan x="3002.5" dy="14.67">+ stream_flags_clock</tspan><tspan x="3002.5" dy="14.67">_sync_source()</tspan><tspan x="3002.5" dy="14.67">+ stream_flags_class_a()</tspan><tspan x="3002.5" dy="14.67">+ stream_flags_class_b()</tspan><tspan x="3002.5" dy="14.67">+ stream_flags_supports</tspan><tspan x="3002.5" dy="14.67">_encrypted()</tspan><tspan x="3002.5" dy="14.67">그리고 21개 더...</tspan><tspan x="3002.5" dy="14.67">- stream_flags_init()</tspan><tspan x="3002.5" dy="14.67">- update_stream_format()</tspan><tspan x="3002.5" dy="14.67">- store_supported_stream_fmts()</tspan></text></g>

<g id="m_stream_output" class="n"><rect x="3226" y="506" width="210.6" height="354.7"/><line x1="3226" y1="546" x2="3436.6" y2="546"/><line x1="3226" y1="600.7" x2="3436.6" y2="600.7"/><text x="3237" y="522.2">stream_output_descriptor</text><text class="c" x="3331.3" y="537.5">_response_imp</text><text x="3237" y="562.2"><tspan x="3237">- stream_info_flags</tspan><tspan x="3237" dy="14.67">- stream_output_flags</tspan><tspan x="3237" dy="14.67">- stream_fmts_vec</tspan></text><text x="3237" y="617.2"><tspan x="3237">+ stream_output_descriptor</tspan><tspan x="3237" dy="14.67">_response_imp()</tspan><tspan x="3237" dy="14.67">+ ~stream_output_descriptor</tspan><tspan x="3237" dy="14.67">_response_imp()</tspan><tspan x="3237" dy="14.67">+ object_name()</tspan><tspan x="3237" dy="14.67">+ localized_description()</tspan><tspan x="3237" dy="14.67">+ clock_domain_index()</tspan><tspan x="3237" dy="14.67">+ stream_flags()</tspan><tspan x="3237" dy="14.67">+ stream_flags_clock</tspan><tspan x="3237" dy="14.67">_sync_source()</tspan><tspan x="3237" dy="14.67">+ stream_flags_class_a()</tspan><tspan x="3237" dy="14.67">+ stream_flags_class_b()</tspan><tspan x="3237" dy="14.67">+ stream_flags_supports</tspan><tspan x="3237" dy="14.67">_encrypted()</tspan><tspan x="3237" dy="14.67">그리고 22개 더...</tspan><tspan x="3237" dy="14.67">- stream_flags_init()</tspan><tspan x="3237" dy="14.67">- store_supported_stream_fmts()</tspan></text></g>

<g id="m_stream_port_input" class="n"><rect x="3461" y="549.7" width="202.1" height="267"/><line x1="3461" y1="589.7" x2="3663.1" y2="589.7"/><line x1="3461" y1="614.7" x2="3663.1" y2="614.7"/><text x="3472" y="566.2">stream_port_input_descriptor</text><text class="c" x="3562" y="581.2">_response_imp</text><text x="3472" y="631.2"><tspan x="3472">+ stream_port_input_descriptor</tspan><tspan x="3472" dy="14.67">_response_imp()</tspan><tspan x="3472" dy="14.67">+ ~stream_port_input</tspan><tspan x="3472" dy="14.67">_descriptor_response_imp()</tspan><tspan x="3472" dy="14.67">+ object_name()</tspan><tspan x="3472" dy="14.67">+ clock_domain_index()</tspan><tspan x="3472" dy="14.67">+ port_flags()</tspan><tspan x="3472" dy="14.67">+ number_of_controls()</tspan><tspan x="3472" dy="14.67">+ base_control()</tspan><tspan x="3472" dy="14.67">+ number_of_clusters()</tspan><tspan x="3472" dy="14.67">+ base_cluster()</tspan><tspan x="3472" dy="14.67">+ number_of_maps()</tspan><tspan x="3472" dy="14.67">+ base_map()</tspan></text></g>

<g id="m_stream_port_output" class="n"><rect x="3688" y="549.7" width="182.8" height="267"/><line x1="3688" y1="589.7" x2="3870.8" y2="589.7"/><line x1="3688" y1="614.7" x2="3870.8" y2="614.7"/><text x="3699" y="566.2">stream_port_output</text><text class="c" x="3779.4" y="581.2">_descriptor_response_imp</text><text x="3699" y="631.2"><tspan x="3699">+ stream_port_output</tspan><tspan x="3699" dy="14.67">_descriptor_response_imp()</tspan><tspan x="3699" dy="14.67">+ ~stream_port_output</tspan><tspan x="3699" dy="14.67">_descriptor_response_imp()</tspan><tspan x="3699" dy="14.67">+ object_name()</tspan><tspan x="3699" dy="14.67">+ clock_domain_index()</tspan><tspan x="3699" dy="14.67">+ port_flags()</tspan><tspan x="3699" dy="14.67">+ number_of_controls()</tspan><tspan x="3699" dy="14.67">+ base_control()</tspan><tspan x="3699" dy="14.67">+ number_of_clusters()</tspan><tspan x="3699" dy="14.67">+ base_cluster()</tspan><tspan x="3699" dy="14.67">+ number_of_maps()</tspan><tspan x="3699" dy="14.67">+ base_map()</tspan></text></g>

<g id="m_strings" class="n"><rect x="3894.3" y="601.7" width="159.3" height="163.3"/><line x1="3894.3" y1="641.3" x2="4053.6" y2="641.3"/><line x1="3894.3" y1="667" x2="4053.6" y2="667"/><text x="3905.3" y="617.2">strings_descriptor</text><text class="c" x="3974" y="632.2">_response_imp</text><text x="3905.3" y="683.2"><tspan x="3905.3">+ strings_descriptor</tspan><tspan x="3905.3" dy="14.67">_response_imp()</tspan><tspan x="3905.3" dy="14.67">+ ~strings_descriptor</tspan><tspan x="3905.3" dy="14.67">_response_imp()</tspan><tspan x="3905.3" dy="14.67">+ object_name()</tspan><tspan x="3905.3" dy="14.67">+ get_string_by_index()</tspan></text></g>

<g id="edges">
<path d="M152,190 C180,148 215,128 300,112 C700,62 1500,53 1925,52"/>
<path d="M321,234 C345,180 375,150 420,138 C700,85 1500,58 1925,54"/>
<path d="M595,153 C610,140 630,130 680,122 C900,85 1500,62 1925,56"/>
<path d="M819,152 C835,140 855,133 900,125 C1150,85 1600,62 1925,57"/>
<path d="M978,212 C1000,175 1030,150 1100,125 C1300,80 1650,62 1925,58"/>
<path d="M1212,197 C1240,165 1270,145 1330,122 C1500,75 1750,63 1925,59"/>
<path d="M1437,161 C1460,142 1490,128 1550,112 C1700,75 1820,64 1925,61"/>
<path d="M1620,182 C1650,155 1690,135 1750,112 C1820,85 1870,68 1925,63"/>
<path d="M1810,182 C1835,150 1865,125 1925,91"/>
<path d="M1967,212 L2005,97"/>
<path d="M2073,182 L2045,97"/>
<path d="M2247,190 C2230,160 2200,125 2127,91"/>
<path d="M2443,190 C2420,150 2390,125 2330,105 C2250,80 2180,66 2127,60"/>
<path d="M2671,234 C2650,180 2615,145 2560,125 C2430,85 2250,64 2127,58"/>
<path d="M2843,182 C2825,160 2800,140 2740,120 C2550,75 2300,60 2127,57"/>
<path d="M3032,153 C3015,140 2990,128 2940,120 C2700,85 2350,63 2127,56"/>
<path d="M3237,153 C3220,140 3195,128 3140,118 C2800,75 2400,60 2127,55"/>
<path d="M3490,190 C3470,160 3440,140 3380,125 C3000,75 2500,58 2127,54"/>
<path d="M3709,190 C3690,160 3655,140 3600,125 C3300,85 2600,58 2127,53"/>
<path d="M3942,241 C3915,190 3870,150 3800,130 C3500,80 2700,57 2127,52"/>

<path d="M96.4,549.7 L96.4,412.7"/>
<path d="M296.6,586.3 L296.6,368.7"/>
<path d="M500.3,520.3 L500.3,456.7"/>
<path d="M719.2,549.7 L719.2,456.7"/>
<path d="M936.5,557 L936.5,390.7"/>
<path d="M1155.2,557 L1155.2,405.3"/>
<path d="M1361.2,520.3 L1361.2,442.3"/>
<path d="M1573,564.7 L1564.6,420"/>
<path d="M1787.7,543 L1770,420"/>
<path d="M2053,543 L2083,420"/>
<path d="M2248,543 L2275.4,412.7"/>
<path d="M2441,543 L2469,412.7"/>
<path d="M2648,601.7 L2685.5,368.7"/>
<path d="M2885,543 L2897,420"/>
<path d="M3109.4,506 L3110.8,456.7"/>
<path d="M3331.7,506 L3331.7,456.7"/>
<path d="M3558.5,549.7 L3555.5,412.7"/>
<path d="M3773.3,549.7 L3768.6,412.7"/>
<path d="M3972.5,601.7 L3969.6,361"/>

<path d="M152,550 C178,508 210,492 280,484 C600,452 1000,450 1400,478 C1650,495 1830,460 1893,390"/>
<path d="M328,586 C350,535 375,505 420,495 C600,470 1000,468 1400,484 C1650,494 1835,462 1895,390"/>
<path d="M588,521 C610,498 640,482 700,474 C1000,465 1300,480 1500,488 C1700,495 1840,462 1897,390"/>
<path d="M782,550 C805,515 840,490 900,478 C1000,462 1300,470 1500,485 C1700,498 1842,463 1899,390"/>
<path d="M990,557 C1012,522 1040,500 1100,484 C1150,472 1300,468 1500,480 C1700,492 1845,463 1900,390"/>
<path d="M1215,557 C1235,525 1265,505 1320,488 C1400,465 1550,470 1650,478 C1760,486 1850,462 1901,390"/>
<path d="M1437,521 C1460,502 1490,492 1550,488 C1700,480 1855,462 1902,390"/>
<path d="M1648,565 C1675,530 1715,505 1790,485 C1840,470 1875,440 1898,390"/>
<path d="M1855,543 L1904,390"/>
<path d="M1986,543 L1955,390"/>
<path d="M2150,543 C2130,510 2100,485 2050,470 C2010,455 1990,435 1976,390"/>
<path d="M2347,543 C2325,510 2290,492 2220,480 C2100,465 2020,455 1978,390"/>
<path d="M2595,602 C2575,560 2550,535 2500,515 C2420,485 2300,475 2200,478 C2080,480 2010,450 1979,390"/>
<path d="M2801,543 C2785,520 2765,505 2720,492 C2600,470 2300,470 2150,475 C2060,478 2005,450 1979,390"/>
<path d="M2992,512 C2975,500 2960,492 2920,485 C2700,462 2300,465 2150,472 C2060,476 2005,448 1978,390"/>
<path d="M3226,512 C3210,500 3190,492 3150,486 C2900,466 2400,462 2150,470 C2060,474 2005,446 1977,390"/>
<path d="M3499,550 C3480,525 3455,508 3400,495 C3150,470 2500,465 2150,468 C2060,470 2004,444 1976,390"/>
<path d="M3723,550 C3705,522 3680,505 3620,490 C3400,470 2600,464 2150,466 C2060,468 2003,442 1975,390"/>
<path d="M3952,602 C3930,550 3900,515 3820,485 C3600,460 2700,460 2150,464 C2060,466 2002,440 1974,390"/>
</g>
</svg>
